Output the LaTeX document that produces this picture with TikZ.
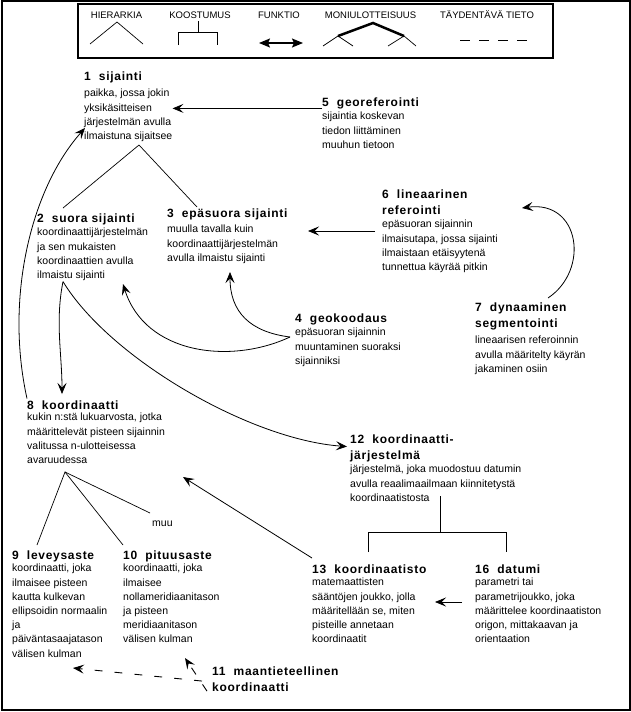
\documentclass[tikz,border=0pt]{standalone}
\usepackage{fontspec}
\setmainfont{Liberation Sans}
\newfontfamily\ttlfont{Liberation Sans}[LetterSpace=6]
\usetikzlibrary{arrows.meta}

\begin{document}
\begin{tikzpicture}[x=1pt,y=-1pt,>={Stealth[length=11pt,width=9pt,inset=4.5pt]},
    head node/.style={anchor=north west,inner sep=0pt,align=left,
      font=\ttlfont\bfseries\fontsize{12}{16}\selectfont,
      execute at begin node={\rule{0pt}{10pt}},
      execute at end node={\rule[-3pt]{0pt}{3pt}}},
    body node/.style={anchor=north west,inner sep=0pt,align=left,
      font=\fontsize{10.5}{14.2}\selectfont,
      execute at begin node={\rule{0pt}{9pt}},
      execute at end node={\rule[-3pt]{0pt}{3pt}}},
    key node/.style={anchor=base,inner sep=0pt,font=\fontsize{9.5}{11}\selectfont},
    func/.style={->,line width=0.8pt},
    extra/.style={->,line width=0.9pt,dash pattern=on 8pt off 12pt},
    tree/.style={line width=0.7pt}]

  \useasboundingbox (0,0) rectangle (631,712);
  \draw[line width=1.5pt] (2,1) rectangle (630,710);

  % legend
  \draw[line width=1.3pt] (78,4) rectangle (553,58);
  \node[key node] (kh) at (116.5,18.5) {HIERARKIA};
  \node[key node] (kk) at (200,18.5) {KOOSTUMUS};
  \node[key node] (kf) at (279,18.5) {FUNKTIO};
  \node[key node] (km) at (370.5,18.5) {MONIULOTTEISUUS};
  \node[key node] (kt) at (487,18.5) {TÄYDENTÄVÄ TIETO};
  \draw[tree] (90,44) -- (117,22) -- (143,44);
  \draw[tree] (198,21) -- (198,32) (178,45) -- (178,32) -- (217,32) -- (217,45);
  \draw[line width=1.5pt,{Stealth[length=11pt,width=9pt,inset=2pt]}-{Stealth[length=11pt,width=9pt,inset=2pt]}] (259,43) -- (303,43);
  \draw[line width=2.5pt] (338,36) -- (373,23) -- (404,36);
  \draw[tree] (323,46) -- (338,36) -- (353,46) (388,46) -- (404,36) -- (416,46);
  \draw[line width=1pt,dash pattern=on 10pt off 9pt] (460,40) -- (533,40);

  % concepts
  \node[head node] (t1) at (84,70.5) {1~~sijainti};
  \node[body node] (d1) at (84,89) {paikka, jossa jokin\\yksikäsitteisen\\järjestelmän avulla\\ilmaistuna sijaitsee};
  \node[head node] (t5) at (322,96.5) {5~~georeferointi};
  \node[body node] (d5) at (322,112) {sijaintia koskevan\\tiedon liittäminen\\muuhun tietoon};
  \node[head node] (t2) at (37,212.5) {2~~suora sijainti};
  \node[body node] (d2) at (37,228) {koordinaattijärjestelmän\\ja sen mukaisten\\koordinaattien avulla\\ilmaistu sijainti};
  \node[head node] (t3) at (167,207.5) {3~~epäsuora sijainti};
  \node[body node] (d3) at (167,225) {muulla tavalla kuin\\koordinaattijärjestelmän\\avulla ilmaistu sijainti};
  \node[head node] (t6) at (382,189.5) {6~~lineaarinen\\referointi};
  \node[body node] (d6) at (382,220) {epäsuoran sijainnin\\ilmaisutapa, jossa sijainti\\ilmaistaan etäisyytenä\\tunnettua käyrää pitkin};
  \node[head node] (t4) at (295,312.5) {4~~geokoodaus};
  \node[body node] (d4) at (295,328) {epäsuoran sijainnin\\muuntaminen suoraksi\\sijainniksi};
  \node[head node] (t7) at (475,302.5) {7~~dynaaminen\\segmentointi};
  \node[body node] (d7) at (475,336) {lineaarisen referoinnin\\avulla määritelty käyrän\\jakaminen osiin};
  \node[head node] (t8) at (27,399.5) {8~~koordinaatti};
  \node[body node] (d8) at (27,413) {kukin n:stä lukuarvosta, jotka\\määrittelevät pisteen sijainnin\\valitussa n-ulotteisessa\\avaruudessa};
  \node[head node] (t12) at (350,434.5) {12~~koordinaatti-\\järjestelmä};
  \node[body node] (d12) at (350,465) {järjestelmä, joka muodostuu datumin\\avulla reaalimaailmaan kiinnitetystä\\koordinaatistosta};
  \node[body node] (muu) at (152,517) {muu};
  \node[head node] (t9) at (12,549.5) {9~~leveysaste};
  \node[body node] (d9) at (12,564) {koordinaatti, joka\\ilmaisee pisteen\\kautta kulkevan\\ellipsoidin normaalin\\ja\\päiväntasaajatason\\välisen kulman};
  \node[head node] (t10) at (123,549.5) {10~~pituusaste};
  \node[body node] (d10) at (123,564) {koordinaatti, joka\\ilmaisee\\nollameridiaanitason\\ja pisteen\\meridiaanitason\\välisen kulman};
  \node[head node] (t13) at (312,563.5) {13~~koordinaatisto};
  \node[body node] (d13) at (312,578) {matemaattisten\\sääntöjen joukko, jolla\\määritellään se, miten\\pisteille annetaan\\koordinaatit};
  \node[head node] (t16) at (475,563.5) {16~~datumi};
  \node[body node] (d16) at (475,578) {parametri tai\\parametrijoukko, joka\\määrittelee koordinaatiston\\origon, mittakaavan ja\\orientaation};
  \node[head node] (t11) at (212,667) {11~~maantieteellinen\\koordinaatti};

  % hierarchy and composition
  \coordinate (h1) at ([xshift=55pt,yshift=-2.4pt]d1.south west);
  \draw[tree] ([xshift=26pt,yshift=4.5pt]t2.north west) -- (h1) -- ([xshift=30pt,yshift=0.5pt]t3.north west);
  \coordinate (h8) at ([xshift=38pt,yshift=-5.4pt]d8.south west);
  \draw[tree] ([xshift=25pt,yshift=4.5pt]t9.north west) -- (h8) -- ([yshift=4.5pt]t10.north west);
  \draw[tree] (h8) -- ([xshift=-2pt,yshift=4pt]muu.north west);
  \coordinate (k12) at ([xshift=90pt,yshift=8.4pt]d12.south west);
  \coordinate (kbar) at ([yshift=-36pt]k12);
  \coordinate (k13) at ([xshift=56pt,yshift=11.5pt]t13.north west);
  \coordinate (k16) at ([xshift=31pt,yshift=11.5pt]t16.north west);
  \draw[tree] (k12) -- (kbar);
  \draw[tree] (k13) |- (kbar) -| (k16);

  % functions
  \coordinate (f5) at ([yshift=1.5pt]t5.south west);
  \draw[func] (f5) -- (f5 -| d1.east);
  \draw[func] ([xshift=-7pt,yshift=-11pt]d6.north west) -- ([xshift=141pt,yshift=-23.5pt]t3.north west);
  \draw[func] ([yshift=1pt]t8.north west) .. controls +(-22,-99) and +(-55,62) .. ([xshift=1pt,yshift=-39pt]d1.north west);
  \coordinate (h2) at ([xshift=26pt]d2.south west);
  \draw[func] (h2) .. controls +(-8,40) and +(0,-40) .. ([xshift=35pt,yshift=5.5pt]t8.north west);
  \draw[func] (h2) .. controls +(47,77) and +(-97,-7) .. ([xshift=-3pt,yshift=2pt]t12.west);
  \coordinate (s4) at ([xshift=-5pt,yshift=-9pt]d4.north west);
  \draw[func] (s4) .. controls +(-40,-5) and +(0,40) .. ([xshift=63pt,yshift=-7.6pt]d3.south west);
  \draw[func] (s4) .. controls +(-60,28) and +(22,70) .. ([xshift=86pt,yshift=-2.4pt]d2.south west);
  \draw[func] ([xshift=73pt,yshift=4.5pt]t7.north west) .. controls +(42,-28) and +(58,-8) .. ([xshift=140pt,yshift=-18.5pt]t6.north west);
  \draw[func] ([xshift=-13pt,yshift=-24pt]d16.north west) -- ([xshift=123pt,yshift=-24pt]d13.north west);
  \draw[func] ([yshift=5.5pt]t13.north west) -- ([xshift=156pt,yshift=-10.4pt]d8.south west);

  % complementary information
  \draw[extra] ([xshift=-10pt]t11.west) -- ([xshift=61pt,yshift=-7.8pt]d9.south west);
  \draw[extra] ([xshift=-5pt,yshift=4pt]t11.south west) -- ([xshift=62pt,yshift=-12pt]d10.south west);
\end{tikzpicture}
\end{document}
